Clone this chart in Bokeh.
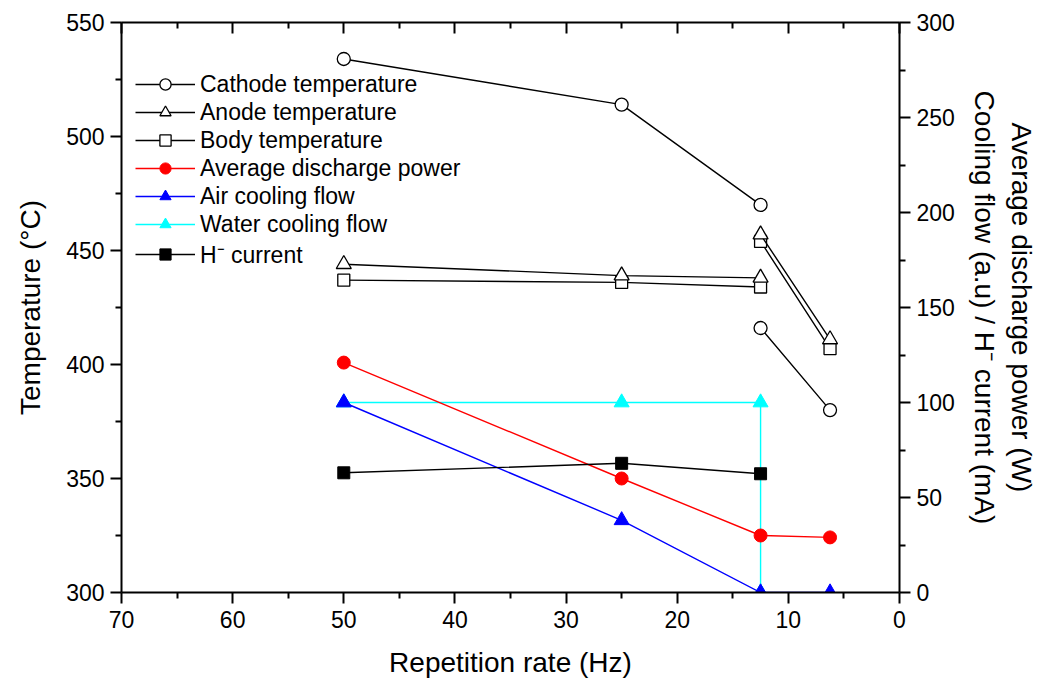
import numpy as np
from bokeh.plotting import figure
from bokeh.models import Range1d, LinearAxis, Legend, LegendItem, FixedTicker
from bokeh.embed import file_html
from bokeh.resources import INLINE

nan = float("nan")

# Temperature series (left axis, deg C); NaN separates the two segments
temp_rate = [50, 25, 12.5, nan, 12.5, 6.25]
cathode = [534, 514, 470, nan, 416, 380]
anode = [444, 439, 438, nan, 457, 411]
body = [437, 436, 434, nan, 454, 407]

# Right-axis series
power_rate = [50, 25, 12.5, 6.25]
power = [121, 60, 30, 29]
air_rate = [50, 25, 12.5, 6.25]
air = [100, 38, 0, 0]
water_rate = [50, 25, 12.5, 12.5]
water = [100, 100, 100, 0]
h_rate = [50, 25, 12.5]
h_current = [63, 68, 62.5]

x_ticks = [0, 10, 20, 30, 40, 50, 60, 70]
x_minor = [5, 15, 25, 35, 45, 55, 65]
yl_ticks = [300, 350, 400, 450, 500, 550]
yl_minor = [325, 375, 425, 475, 525]
yr_ticks = [0, 50, 100, 150, 200, 250, 300]
yr_minor = [25, 75, 125, 175, 225, 275]

FONT = "Liberation Sans"

p = figure(width=1039, height=679, frame_width=778, frame_height=570,
           x_range=Range1d(70, 0), y_range=Range1d(300, 550),
           output_backend="svg", toolbar_location=None,
           min_border_left=121, min_border_right=140, min_border_top=22, min_border_bottom=87)
p.extra_y_ranges = {"right": Range1d(0, 300)}
p.xgrid.visible = False
p.ygrid.visible = False
p.outline_line_color = None
p.background_fill_color = "white"


def style_axis(ax, ticks, minor, tick_in=0, tick_out=11, minor_in=0, minor_out=6):
    ax.ticker = FixedTicker(ticks=ticks, minor_ticks=minor)
    ax.axis_line_width = 2
    ax.axis_line_color = "black"
    ax.major_tick_line_width = 2
    ax.minor_tick_line_width = 2
    ax.major_tick_line_color = "black"
    ax.minor_tick_line_color = "black"
    ax.major_tick_in = tick_in
    ax.major_tick_out = tick_out
    ax.minor_tick_in = minor_in
    ax.minor_tick_out = minor_out
    ax.major_label_text_font = FONT
    ax.major_label_text_font_size = "23px"
    ax.major_label_text_color = "black"
    ax.axis_label_text_font = FONT
    ax.axis_label_text_font_size = "28px"
    ax.axis_label_text_font_style = "normal"
    ax.axis_label_text_color = "black"


xa = p.xaxis[0]
style_axis(xa, x_ticks, x_minor)
xa.axis_label = "Repetition rate (Hz)"
xa.major_label_standoff = 7
xa.axis_label_standoff = 16

ya = p.yaxis[0]
style_axis(ya, yl_ticks, yl_minor)
ya.axis_label = "Temperature (\u00b0C)"
ya.major_label_standoff = 6
ya.axis_label_standoff = 17

top = LinearAxis()
style_axis(top, x_ticks, x_minor, tick_in=11, tick_out=0, minor_in=6, minor_out=0)
top.major_label_overrides = {t: "" for t in x_ticks}
top.major_label_standoff = 0
p.add_layout(top, "above")

right = LinearAxis(y_range_name="right")
style_axis(right, yr_ticks, yr_minor)
right.axis_label = "Average discharge power (W)\nCooling flow (a.u) / H\u207b current (mA)"
right.major_label_standoff = 6
right.axis_label_standoff = 11
p.add_layout(right, "right")

LW = 1.4

# right-axis series
w_l = p.line(water_rate, water, color="cyan", line_width=LW, y_range_name="right")
w_m = p.scatter(water_rate, water, marker="triangle", size=15, color="cyan", y_range_name="right")
a_l = p.line(air_rate, air, color="blue", line_width=LW, y_range_name="right")
a_m = p.scatter(air_rate, air, marker="triangle", size=15, color="blue", y_range_name="right")
r_l = p.line(power_rate, power, color="red", line_width=LW, y_range_name="right")
r_m = p.scatter(power_rate, power, marker="circle", size=13, color="red", y_range_name="right")
h_l = p.line(h_rate, h_current, color="black", line_width=LW, y_range_name="right")
h_m = p.scatter(h_rate, h_current, marker="square", size=12, color="black", y_range_name="right")

# temperatures
c_l = p.line(temp_rate, cathode, color="black", line_width=LW)
c_m = p.scatter(temp_rate, cathode, marker="circle", size=13, line_color="black",
                fill_color="white", line_width=1.3)
b_l = p.line(temp_rate, body, color="black", line_width=LW)
b_m = p.scatter(temp_rate, body, marker="square", size=12, line_color="black",
                fill_color="white", line_width=1.3)
an_l = p.line(temp_rate, anode, color="black", line_width=LW)
an_m = p.scatter(temp_rate, anode, marker="triangle", size=15, line_color="black",
                 fill_color="white", line_width=1.3)

items = [
    LegendItem(label="Cathode temperature", renderers=[c_l, c_m]),
    LegendItem(label="Anode temperature", renderers=[an_l, an_m]),
    LegendItem(label="Body temperature", renderers=[b_l, b_m]),
    LegendItem(label="Average discharge power", renderers=[r_l, r_m]),
    LegendItem(label="Air cooling flow", renderers=[a_l, a_m]),
    LegendItem(label="Water cooling flow", renderers=[w_l, w_m]),
    LegendItem(label="H\u207b current", renderers=[h_l, h_m]),
]
legend = Legend(items=items, location=(14, 322))
legend.border_line_color = None
legend.background_fill_alpha = 0
legend.padding = 0
legend.margin = 0
legend.spacing = 0
legend.glyph_width = 60
legend.glyph_height = 28
legend.label_height = 28
legend.label_standoff = 5
legend.label_text_font = FONT
legend.label_text_font_size = "23px"
legend.label_text_color = "black"
p.add_layout(legend, "center")

open("out.html", "w").write(file_html(p, INLINE))
